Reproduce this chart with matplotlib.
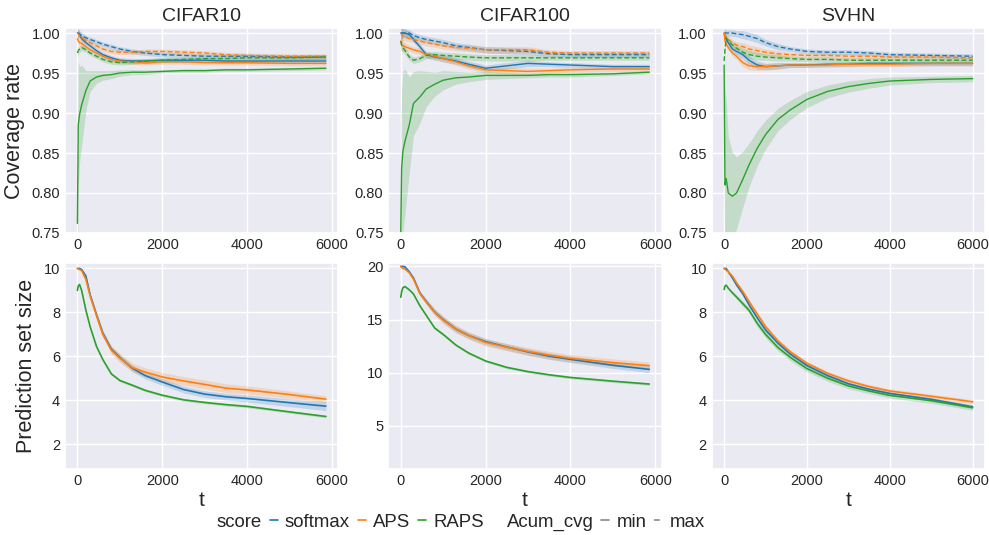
import matplotlib
matplotlib.use("Agg")
import matplotlib.pyplot as plt
from matplotlib.lines import Line2D
import numpy as np
import seaborn as sns

T_CIFAR = [0, 20, 50, 100, 200, 300, 450, 600, 800, 1000, 1300, 1600, 2000, 2500, 3000, 3500, 4000, 5000, 5860]
T_SVHN = [0, 20, 50, 100, 200, 300, 450, 600, 800, 1000, 1300, 1600, 2000, 2500, 3000, 3500, 4000, 5000, 6000]

scores = ["softmax", "APS", "RAPS"]
datasets = ["CIFAR10", "CIFAR100", "SVHN"]

# ---- coverage rate, max over runs (dashed) ----
cifar10_cov_max = {
    "softmax": [1.000, 1.000, 0.999, 0.997, 0.994, 0.992, 0.989, 0.986, 0.983, 0.980, 0.977, 0.975, 0.973, 0.972, 0.971, 0.971, 0.971, 0.970, 0.970],
    "APS": [1.000, 0.999, 0.996, 0.994, 0.991, 0.988, 0.984, 0.980, 0.977, 0.976, 0.976, 0.977, 0.977, 0.976, 0.975, 0.973, 0.972, 0.971, 0.971],
    "RAPS": [0.975, 0.978, 0.980, 0.982, 0.979, 0.975, 0.971, 0.967, 0.964, 0.963, 0.964, 0.965, 0.966, 0.967, 0.968, 0.968, 0.969, 0.969, 0.970],
}
cifar100_cov_max = {
    "softmax": [1.000, 1.000, 1.000, 1.000, 1.000, 0.997, 0.994, 0.992, 0.990, 0.988, 0.984, 0.982, 0.979, 0.978, 0.977, 0.974, 0.973, 0.973, 0.973],
    "APS": [1.000, 0.998, 0.996, 0.995, 0.993, 0.992, 0.990, 0.988, 0.986, 0.984, 0.982, 0.981, 0.979, 0.979, 0.979, 0.976, 0.975, 0.975, 0.975],
    "RAPS": [0.990, 0.985, 0.982, 0.978, 0.970, 0.966, 0.968, 0.972, 0.973, 0.972, 0.971, 0.970, 0.969, 0.969, 0.969, 0.969, 0.969, 0.969, 0.969],
}
svhn_cov_max = {
    "softmax": [1.000, 1.000, 1.000, 1.000, 1.000, 0.999, 0.998, 0.996, 0.993, 0.988, 0.983, 0.980, 0.977, 0.976, 0.976, 0.975, 0.973, 0.972, 0.971],
    "APS": [1.000, 0.998, 0.995, 0.992, 0.988, 0.985, 0.983, 0.980, 0.978, 0.976, 0.974, 0.973, 0.972, 0.972, 0.971, 0.971, 0.970, 0.970, 0.969],
    "RAPS": [0.965, 0.980, 0.994, 0.990, 0.985, 0.981, 0.976, 0.973, 0.971, 0.970, 0.969, 0.968, 0.967, 0.967, 0.966, 0.966, 0.966, 0.966, 0.966],
}

# ---- coverage rate, min over runs (solid) ----
cifar10_cov_min = {
    "softmax": [1.000, 1.000, 0.998, 0.993, 0.988, 0.984, 0.978, 0.973, 0.969, 0.966, 0.965, 0.965, 0.966, 0.966, 0.966, 0.965, 0.965, 0.965, 0.965],
    "APS": [0.993, 0.990, 0.988, 0.987, 0.983, 0.979, 0.975, 0.971, 0.967, 0.965, 0.964, 0.963, 0.964, 0.964, 0.963, 0.963, 0.963, 0.962, 0.962],
    "RAPS": [0.762, 0.885, 0.898, 0.910, 0.928, 0.940, 0.945, 0.947, 0.948, 0.950, 0.951, 0.951, 0.952, 0.953, 0.953, 0.954, 0.954, 0.955, 0.956],
}
cifar100_cov_min = {
    "softmax": [1.000, 1.000, 1.000, 1.000, 0.998, 0.992, 0.983, 0.973, 0.970, 0.968, 0.965, 0.961, 0.956, 0.959, 0.962, 0.961, 0.960, 0.958, 0.958],
    "APS": [0.990, 0.985, 0.984, 0.983, 0.981, 0.979, 0.977, 0.973, 0.971, 0.968, 0.964, 0.959, 0.954, 0.953, 0.952, 0.953, 0.954, 0.955, 0.955],
    "RAPS": [0.750, 0.830, 0.852, 0.865, 0.885, 0.912, 0.920, 0.930, 0.936, 0.941, 0.944, 0.945, 0.947, 0.947, 0.947, 0.948, 0.948, 0.949, 0.951],
}
svhn_cov_min = {
    "softmax": [1.000, 0.995, 0.992, 0.988, 0.980, 0.977, 0.973, 0.966, 0.960, 0.958, 0.959, 0.960, 0.960, 0.961, 0.961, 0.962, 0.962, 0.962, 0.962],
    "APS": [1.000, 0.990, 0.986, 0.982, 0.975, 0.971, 0.963, 0.959, 0.958, 0.958, 0.959, 0.960, 0.960, 0.960, 0.961, 0.961, 0.961, 0.962, 0.962],
    "RAPS": [0.960, 0.810, 0.818, 0.800, 0.796, 0.800, 0.817, 0.835, 0.856, 0.873, 0.892, 0.904, 0.917, 0.927, 0.933, 0.937, 0.940, 0.942, 0.943],
}

# half width of the shaded band: thin one for most curves, wide one for RAPS min
cifar10_cov_band = [0.006, 0.005, 0.004, 0.004, 0.003, 0.003, 0.003, 0.003, 0.003, 0.003, 0.003, 0.003, 0.003, 0.003, 0.003, 0.003, 0.003, 0.003, 0.003]
cifar100_cov_band = [0.010, 0.008, 0.006, 0.005, 0.004, 0.004, 0.004, 0.004, 0.004, 0.004, 0.004, 0.004, 0.004, 0.004, 0.004, 0.003, 0.003, 0.003, 0.003]
svhn_cov_band = [0.006, 0.005, 0.004, 0.004, 0.004, 0.004, 0.005, 0.005, 0.005, 0.004, 0.004, 0.003, 0.003, 0.003, 0.003, 0.003, 0.003, 0.003, 0.003]
cifar10_raps_min_band = [0.12, 0.08, 0.06, 0.05, 0.025, 0.013, 0.008, 0.006, 0.005, 0.004, 0.003, 0.003, 0.002, 0.002, 0.002, 0.002, 0.002, 0.002, 0.002]
cifar100_raps_min_band = [0.10, 0.10, 0.10, 0.09, 0.06, 0.04, 0.033, 0.022, 0.015, 0.012, 0.008, 0.006, 0.005, 0.004, 0.003, 0.003, 0.003, 0.002, 0.002]
svhn_raps_min_band = [0.15, 0.12, 0.10, 0.07, 0.055, 0.045, 0.035, 0.027, 0.022, 0.018, 0.014, 0.012, 0.010, 0.008, 0.007, 0.006, 0.005, 0.004, 0.004]

# ---- prediction set size ----
cifar10_size = {
    "softmax": [10.0, 10.0, 10.0, 9.95, 9.65, 8.8, 7.9, 7.05, 6.33, 5.95, 5.45, 5.12, 4.83, 4.49, 4.28, 4.16, 4.08, 3.89, 3.73],
    "APS": [10.0, 9.98, 9.95, 9.9, 9.5, 8.75, 7.85, 7.0, 6.28, 5.92, 5.48, 5.28, 5.06, 4.88, 4.72, 4.55, 4.47, 4.26, 4.05],
    "RAPS": [9.0, 9.2, 9.27, 9.0, 8.1, 7.35, 6.45, 5.85, 5.2, 4.9, 4.68, 4.45, 4.23, 4.02, 3.9, 3.8, 3.72, 3.47, 3.26],
}
cifar100_size = {
    "softmax": [20.0, 20.0, 20.0, 19.95, 19.5, 18.9, 17.5, 16.7, 15.7, 15.0, 14.1, 13.5, 12.92, 12.42, 11.95, 11.55, 11.25, 10.7, 10.31],
    "APS": [20.0, 19.9, 19.8, 19.75, 19.4, 18.8, 17.45, 16.65, 15.7, 14.95, 14.1, 13.5, 12.85, 12.4, 12.0, 11.65, 11.35, 10.95, 10.66],
    "RAPS": [17.1, 17.6, 18.0, 18.1, 17.8, 17.4, 16.3, 15.4, 14.2, 13.6, 12.6, 11.85, 11.1, 10.5, 10.1, 9.8, 9.55, 9.2, 8.93],
}
svhn_size = {
    "softmax": [10.0, 10.0, 10.0, 9.85, 9.57, 9.25, 8.85, 8.35, 7.75, 7.2, 6.6, 6.1, 5.58, 5.12, 4.75, 4.5, 4.31, 4.04, 3.70],
    "APS": [10.0, 9.97, 9.92, 9.85, 9.65, 9.35, 8.95, 8.5, 7.92, 7.35, 6.7, 6.2, 5.68, 5.22, 4.88, 4.62, 4.42, 4.18, 3.93],
    "RAPS": [9.04, 9.2, 9.24, 9.1, 8.89, 8.7, 8.4, 8.1, 7.5, 7.0, 6.4, 5.95, 5.44, 5.0, 4.65, 4.42, 4.22, 3.98, 3.66],
}
cifar10_size_band = {
    "softmax": [0.0, 0.02, 0.03, 0.05, 0.08, 0.1, 0.12, 0.13, 0.14, 0.15, 0.15, 0.15, 0.15, 0.15, 0.15, 0.15, 0.16, 0.18, 0.2],
    "APS": [0.0, 0.02, 0.03, 0.05, 0.08, 0.1, 0.12, 0.15, 0.18, 0.2, 0.2, 0.2, 0.2, 0.2, 0.2, 0.2, 0.18, 0.16, 0.15],
    "RAPS": [0.0, 0.02, 0.03, 0.04, 0.05, 0.05, 0.05, 0.05, 0.06, 0.06, 0.06, 0.06, 0.06, 0.06, 0.06, 0.06, 0.06, 0.06, 0.06],
}
cifar100_size_band = {
    "softmax": [0.0, 0.03, 0.05, 0.08, 0.1, 0.15, 0.2, 0.25, 0.3, 0.3, 0.3, 0.3, 0.3, 0.3, 0.3, 0.3, 0.3, 0.3, 0.3],
    "APS": [0.0, 0.03, 0.05, 0.08, 0.1, 0.15, 0.2, 0.25, 0.3, 0.35, 0.35, 0.35, 0.35, 0.35, 0.35, 0.35, 0.35, 0.35, 0.35],
    "RAPS": [0.0, 0.03, 0.05, 0.06, 0.08, 0.1, 0.1, 0.1, 0.12, 0.12, 0.12, 0.12, 0.12, 0.12, 0.12, 0.12, 0.12, 0.12, 0.12],
}
svhn_size_band = {
    "softmax": [0.0, 0.02, 0.03, 0.04, 0.05, 0.06, 0.06, 0.07, 0.08, 0.08, 0.08, 0.08, 0.08, 0.08, 0.08, 0.08, 0.08, 0.08, 0.08],
    "APS": [0.0, 0.02, 0.03, 0.04, 0.05, 0.06, 0.07, 0.08, 0.1, 0.1, 0.1, 0.1, 0.1, 0.1, 0.1, 0.1, 0.1, 0.1, 0.1],
    "RAPS": [0.0, 0.02, 0.03, 0.05, 0.08, 0.1, 0.12, 0.14, 0.15, 0.15, 0.15, 0.15, 0.15, 0.14, 0.13, 0.12, 0.12, 0.12, 0.12],
}

size_ylims = {"CIFAR10": (0.87, 10.23), "CIFAR100": (0.94, 20.28), "SVHN": (0.87, 10.23)}
size_ticks = {"CIFAR10": [2, 4, 6, 8, 10], "CIFAR100": [5, 10, 15, 20], "SVHN": [2, 4, 6, 8, 10]}

colors = {"softmax": "#1f77b4", "APS": "#ff7f0e", "RAPS": "#2ca02c"}
DASH = (0, (3.5, 1.8))

sns.set_theme(style="darkgrid")
plt.rcParams["font.family"] = ["Liberation Sans", "DejaVu Sans"]
plt.rcParams["axes.labelcolor"] = "#262626"
plt.rcParams["text.color"] = "#262626"

fig, axes = plt.subplots(2, 3, figsize=(9.89, 5.35), dpi=100)
fig.subplots_adjust(left=0.0657, right=0.996, top=0.948, bottom=0.1234, wspace=0.183, hspace=0.146)

cov_max = [cifar10_cov_max, cifar100_cov_max, svhn_cov_max]
cov_min = [cifar10_cov_min, cifar100_cov_min, svhn_cov_min]
cov_band = [cifar10_cov_band, cifar100_cov_band, svhn_cov_band]
raps_band = [cifar10_raps_min_band, cifar100_raps_min_band, svhn_raps_min_band]
sizes = [cifar10_size, cifar100_size, svhn_size]
size_bands = [cifar10_size_band, cifar100_size_band, svhn_size_band]
times = [T_CIFAR, T_CIFAR, T_SVHN]

for j, name in enumerate(datasets):
    t = np.array(times[j])

    # coverage
    ax = axes[0, j]
    for s in scores:
        c = colors[s]
        lo = np.array(cov_min[j][s])
        hi = np.array(cov_max[j][s])
        bw_min = np.array(raps_band[j] if s == "RAPS" else cov_band[j])
        bw_max = np.array(cov_band[j])
        ax.fill_between(t, lo - bw_min, lo + bw_min, color=c, alpha=0.2, lw=0)
        ax.fill_between(t, hi - bw_max, hi + bw_max, color=c, alpha=0.2, lw=0)
        ax.plot(t, lo, color=c, lw=1.0)
        ax.plot(t, hi, color=c, lw=1.0, ls=DASH)
    ax.set_ylim(0.7495, 1.0065)
    ax.set_yticks([0.75, 0.80, 0.85, 0.90, 0.95, 1.00])
    ax.set_title(name, fontsize=14, pad=5)

    # prediction set size
    ax = axes[1, j]
    for s in scores:
        c = colors[s]
        y = np.array(sizes[j][s])
        bw = np.array(size_bands[j][s])
        ax.fill_between(t, y - bw, y + bw, color=c, alpha=0.2, lw=0)
        ax.plot(t, y, color=c, lw=1.2)
    ax.set_ylim(*size_ylims[name])
    ax.set_yticks(size_ticks[name])
    ax.set_xlabel("t", fontsize=15, labelpad=2)

for ax in axes.flat:
    ax.set_xticks([0, 2000, 4000, 6000])
    ax.tick_params(labelsize=10.5, colors="#262626", length=0, pad=3.5)

axes[0, 0].set_ylabel("Coverage rate", fontsize=15.5, labelpad=5)
axes[1, 0].set_ylabel("Prediction set size", fontsize=15.5, labelpad=5)

# legend: seaborn-like with sub titles
blank = Line2D([], [], color="none")
gray = "#888888"
handles = [blank,
           Line2D([], [], color=colors["softmax"], lw=1.2),
           Line2D([], [], color=colors["APS"], lw=1.2),
           Line2D([], [], color=colors["RAPS"], lw=1.2),
           blank,
           Line2D([], [], color=gray, lw=1.2),
           Line2D([], [], color=gray, lw=1.2, ls=DASH)]
labels = ["score", "softmax", "APS", "RAPS", "Acum_cvg", "min", "max"]
fig.legend(handles, labels, loc="center", bbox_to_anchor=(0.458, 0.024), ncol=7,
           frameon=False, fontsize=13.4, handlelength=0.45, handletextpad=0.38,
           columnspacing=0.4, borderaxespad=0)

fig.savefig("out.png", dpi=100)
